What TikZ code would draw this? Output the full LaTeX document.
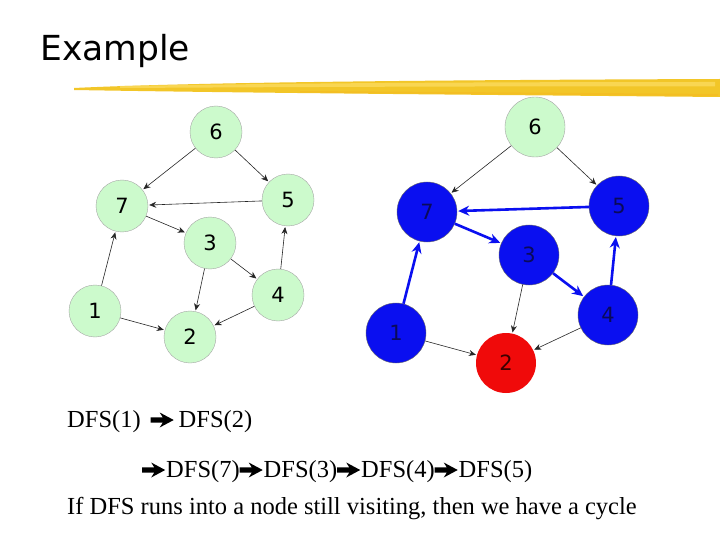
\documentclass[tikz,border=0pt]{standalone}
\usepackage{fontspec}
\setmainfont{Liberation Serif}
\newfontfamily\dejavu{DejaVu Sans}
\usetikzlibrary{arrows.meta}
\definecolor{nodegreen}{RGB}{204,250,204}
\definecolor{nodeblue}{RGB}{10,15,240}
\definecolor{nodered}{RGB}{240,10,10}
\definecolor{brushA}{RGB}{242,198,40}
\definecolor{brushB}{RGB}{252,222,100}
\newcommand{\darr}{\tikz[x=1pt,y=1pt,baseline=0pt]\fill[black] (0,4.3) -- (12,4.3) -- (9,-0.5) -- (23,7) -- (9,14.5) -- (12,9.7) -- (0,9.7) -- cycle;}
\tikzset{
  gnode/.style={circle,draw=gray!70,fill=nodegreen,minimum size=52pt,inner sep=0pt,font=\dejavu\fontsize{21}{21}\selectfont},
  bnode/.style={circle,draw=black!60,fill=nodeblue,text={rgb,255:red,10;green,10;blue,90},minimum size=60pt,inner sep=0pt,font=\dejavu\fontsize{21}{21}\selectfont},
  rnode/.style={circle,fill=nodered,text={rgb,255:red,60;green,0;blue,0},minimum size=60pt,inner sep=0pt,font=\dejavu\fontsize{21}{21}\selectfont},
  thin edge/.style={draw=black!85,line width=0.6pt,-{Stealth[length=7pt,width=6pt]},shorten >=1pt},
  blue edge/.style={draw=nodeblue,line width=2.6pt,-{Stealth[length=11pt,width=10pt]},shorten >=1pt},
  body/.style={anchor=base west,inner sep=0pt,font=\fontsize{24.5}{24.5}\selectfont}
}
\begin{document}
\begin{tikzpicture}[x=1pt,y=-1pt]
\useasboundingbox (0,0) rectangle (720,540);
\fill[white] (0,0) rectangle (720,540);
% title
\node[anchor=base west,inner sep=0pt,font=\dejavu\fontsize{34.5}{34.5}\selectfont] (title) at (40,61) {Example};
% brush stroke
\fill[brushA] (74,88) .. controls (200,82) and (450,80) .. (720,79) -- (720,97) .. controls (500,95) and (250,93) .. (74,90) -- cycle;
\fill[brushB,opacity=0.7] (120,86) .. controls (300,83) and (500,82) .. (715,82) -- (715,86.5) .. controls (500,86) and (300,87) .. (120,88) -- cycle;
\fill[brushA!80!orange,opacity=0.5] (300,91) .. controls (450,92) and (600,93) .. (718,94) -- (718,96) .. controls (600,95) and (450,94) .. (300,92.5) -- cycle;

% left graph
\node[gnode] (L6) at (216,132) {6};
\node[gnode] (L7) at (122,206) {7};
\node[gnode] (L5) at (288,200) {5};
\node[gnode] (L3) at (210,243) {3};
\node[gnode] (L1) at (95,311) {1};
\node[gnode] (L2) at (190,337) {2};
\node[gnode] (L4) at (278,295) {4};
\foreach \a/\b in {L6/L7,L6/L5,L5/L7,L7/L3,L1/L7,L1/L2,L3/L2,L3/L4,L4/L5,L4/L2}
  \draw[thin edge] (\a) -- (\b);

% right graph
\node[gnode,minimum size=60pt] (R6) at (535,127) {6};
\node[bnode] (R7) at (427,212) {7};
\node[bnode] (R5) at (619,206) {5};
\node[bnode] (R3) at (529,255) {3};
\node[bnode] (R1) at (396,333) {1};
\node[rnode] (R2) at (506,363) {2};
\node[bnode] (R4) at (608,315) {4};
\foreach \a/\b in {R6/R7,R6/R5,R1/R2,R3/R2,R4/R2}
  \draw[thin edge] (\a) -- (\b);
\foreach \a/\b in {R1/R7,R7/R3,R3/R4,R4/R5,R5/R7}
  \draw[blue edge] (\a) -- (\b);

% text
\node[body] (t1) at (67,427) {DFS(1)\hspace{10pt}\darr\hspace{5pt}DFS(2)};
\node[body] (t2) at (142,477) {\darr\hspace{1pt}DFS(7)\darr\hspace{1pt}DFS(3)\darr\hspace{1pt}DFS(4)\darr\hspace{1pt}DFS(5)};
\node[body] (t3) at (67,514) {If DFS runs into a node still visiting, then we have a cycle};
\end{tikzpicture}
\end{document}
